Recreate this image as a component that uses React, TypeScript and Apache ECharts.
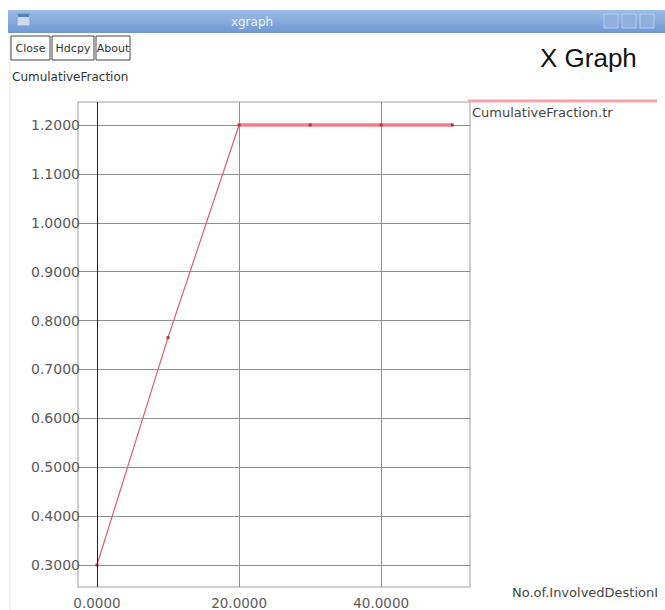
import React, { useEffect, useRef } from "react";
import * as echarts from "echarts";

const xValues = [0, 10, 20, 30, 40, 50];
const yValues = [0.3, 0.765, 1.2, 1.2, 1.2, 1.2];
const xTicks = [0, 20, 40];
const yTicks = [0.3, 0.4, 0.5, 0.6, 0.7, 0.8, 0.9, 1.0, 1.1, 1.2];
const seriesName = "CumulativeFraction.tr";
const yTitle = "CumulativeFraction";
const xTitle = "No.of.InvolvedDestionI";
const buttons = ["Close", "Hdcpy", "About"];

export default function App() {
  const ref = useRef<HTMLDivElement>(null);
  useEffect(() => {
    if (!ref.current) return;
    const chart = echarts.init(ref.current, null, { renderer: "svg" });
    const pts = xValues.map((x, i) => [x, yValues[i]]);
    const top = Math.max(...yValues);
    const plateau = pts.filter((p) => p[1] === top);
    const font = "DejaVu Sans";
    const btnX = [11, 52, 96];
    const btnW = [39, 42, 34];
    chart.setOption({
      animation: false,
      backgroundColor: "#ffffff",
      grid: {
        left: 78,
        right: 195,
        top: 102,
        bottom: 22,
        show: true,
        borderColor: "#cfcfcf",
        borderWidth: 2,
        backgroundColor: "#ffffff",
      },
      xAxis: {
        type: "value",
        min: -2.67,
        max: 52.5,
        axisLine: { show: false },
        axisTick: { show: false, customValues: xTicks },
        splitLine: { show: true, lineStyle: { color: "#909090", width: 1 } },
        axisLabel: {
          customValues: xTicks,
          formatter: (v: number) => v.toFixed(4),
          color: "#5a5a5a",
          fontFamily: font,
          fontSize: 13.5,
          margin: 9,
        },
      },
      yAxis: {
        type: "value",
        min: 0.255,
        max: 1.247,
        axisLine: { show: false },
        axisTick: { show: false, customValues: yTicks },
        splitLine: { show: true, lineStyle: { color: "#909090", width: 1 } },
        axisLabel: {
          customValues: yTicks,
          formatter: (v: number) => v.toFixed(4),
          color: "#5a5a5a",
          fontFamily: font,
          fontSize: 14,
          margin: -2,
        },
      },
      series: [
        {
          type: "line",
          name: seriesName + " plateau",
          data: plateau,
          symbol: "none",
          lineStyle: { color: "#f3a3ab", width: 4 },
          silent: true,
          z: 2,
        },
        {
          type: "line",
          name: seriesName,
          data: pts,
          symbol: "rect",
          symbolSize: 3,
          itemStyle: { color: "#b8303e" },
          lineStyle: { color: "#e25b6a", width: 1.2 },
          markLine: {
            silent: true,
            symbol: "none",
            label: { show: false },
            lineStyle: { color: "#222", width: 1, type: "solid" },
            data: [{ xAxis: 0 }],
          },
          z: 3,
        },
      ],
      graphic: [
        {
          type: "rect",
          shape: { x: 8, y: 10, width: 660, height: 23 },
          style: {
            fill: new echarts.graphic.LinearGradient(0, 0, 0, 1, [
              { offset: 0, color: "#9dbde6" },
              { offset: 1, color: "#6f98d2" },
            ]),
          },
        },
        { type: "rect", shape: { x: 17, y: 14, width: 13, height: 12 }, style: { fill: "#c9d9ef", stroke: "#7f9dc8" } },
        { type: "rect", shape: { x: 18, y: 14, width: 11, height: 3 }, style: { fill: "#5b7fb5" } },
        {
          type: "text",
          style: { text: "xgraph", x: 252, y: 22, align: "center", verticalAlign: "middle", fill: "#eef3fb", font: "12px DejaVu Sans" },
        },
        { type: "rect", shape: { x: 604, y: 14, width: 14, height: 14 }, style: { fill: "#8fb0dd", stroke: "#b9cff0" } },
        { type: "rect", shape: { x: 622, y: 14, width: 14, height: 14 }, style: { fill: "#8fb0dd", stroke: "#b9cff0" } },
        { type: "rect", shape: { x: 640, y: 14, width: 14, height: 14 }, style: { fill: "#8fb0dd", stroke: "#b9cff0" } },
        { type: "line", shape: { x1: 10, y1: 33, x2: 10, y2: 610 }, style: { stroke: "#e4e4e4", lineWidth: 1 } },
        ...buttons.flatMap((b, i) => [
          {
            type: "rect",
            shape: { x: btnX[i], y: 36, width: btnW[i], height: 24 },
            style: { fill: "#ffffff", stroke: "#444", lineWidth: 1 },
          },
          {
            type: "text",
            style: {
              text: b,
              x: btnX[i] + btnW[i] / 2,
              y: 48,
              align: "center",
              verticalAlign: "middle",
              fill: "#333",
              font: "11px DejaVu Sans",
            },
          },
        ]),
        {
          type: "text",
          style: { text: "X Graph", x: 540, y: 58, verticalAlign: "middle", fill: "#111", font: "26px Liberation Sans" },
        },
        {
          type: "text",
          style: { text: yTitle, x: 12, y: 77, verticalAlign: "middle", fill: "#333", font: "12px DejaVu Sans" },
        },
        { type: "line", shape: { x1: 468, y1: 101, x2: 657, y2: 101 }, style: { stroke: "#f3a3ab", lineWidth: 3 } },
        {
          type: "text",
          style: { text: seriesName, x: 472, y: 112, verticalAlign: "middle", fill: "#444", font: "13px DejaVu Sans" },
        },
        {
          type: "text",
          style: { text: xTitle, x: 512, y: 592, verticalAlign: "middle", fill: "#444", font: "13px DejaVu Sans" },
        },
      ],
    });
    return () => chart.dispose();
  }, []);
  return <div ref={ref} style={{ width: 665, height: 610, position: "absolute", left: 0, top: 0 }} />;
}
